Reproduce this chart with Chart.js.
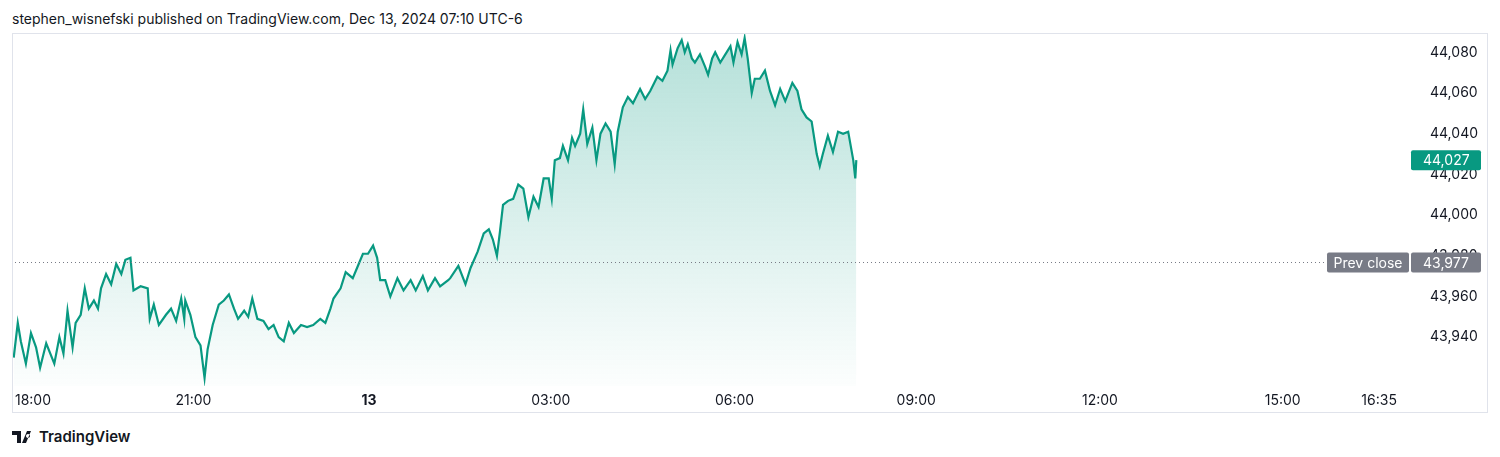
<!DOCTYPE html>
<html><head><meta charset="utf-8">
<script src="https://cdn.jsdelivr.net/npm/chart.js@4"></script>
<style>
body{margin:0;background:#fff;font-family:Inter,Roboto,sans-serif;color:#131722;width:1500px;height:457px;overflow:hidden;position:relative}
#hdr{position:absolute;left:12px;top:10px;font-size:14px}
#box{position:absolute;left:12px;top:33px;width:1476px;height:380px;border:1px solid #e0e3eb;box-sizing:border-box}
#ftr{position:absolute;left:12px;top:427px;font-size:15px;font-weight:600;display:flex;align-items:center;gap:5px}
</style></head><body>
<div id="hdr">stephen_wisnefski published on TradingView.com, Dec 13, 2024 07:10 UTC-6</div>
<div id="box"><canvas id="c" width="1474" height="378"></canvas></div>
<div id="ftr"><svg width="22" height="12" viewBox="0 0 22 12"><path d="M0 0h9v12H5V4H0z M10 12l5-12h4l-5 12z M16 3a2 2 0 1 0 0.01 0z" fill="#131722"/></svg>TradingView</div>
<script>
// minutes from 18:00 (Dec 12)
const times=[-19,-15,-12,-7,-2,3,7,13,21,26,30,34,39,42,47,51,55,60,64,67,72,77,82,87,91,96,99,106,113,115,119,124,131,136,141,146,149,150,155,160,165,169,172,177,183,188,193,198,202,208,212,216,221,227,232,237,242,247,252,257,264,270,276,283,288,293,296,303,308,315,320,325,330,335,339,342,347,352,359,365,372,377,384,389,396,401,409,
411,419,426,431,438,444,449,453,457,460,463,468,473,478,483,488,493,498,503,508,511,514,519,522,527,531,534,539,542,546,551,555,559,564,569,573,576,581,586,591,598,603,608,615,620,625,628,630,635,639,642,645,649,652,657,662,665,669,672,677,682,687,690,694,698,701,704,708,711,716,721,726,731,736,741,748,753,757,762,767,772,775,778,783,788,793,798,803,808,810,811];
const prices=[43930,43947,43938,43927,43942,43935,43925,43937,43927,43940,43932,43953,43935,43947,43951,43964,43954,43958,43954,43964,43971,43966,43976,43971,43978,43979,43963,43965,43964,43949,43956,43946,43951,43954,43948,43959,43949,43958,43951,43940,43936,43920,43934,43946,43956,43958,43961,43954,43949,43953,43950,43959,43949,43948,43944,43946,43940,43938,43947,43942,43946,43945,43946,43949,43947,43954,43959,43964,43972,43969,43975,43981,43981,43985,43979,43968,43968,43960,43969,43963,43968,43963,43970,43963,43969,43965,43968,
43969,43975,43966,43974,43982,43991,43993,43988,43980,43992,44005,44007,44008,44015,44013,43999,44009,44004,44018,44018,44008,44027,44028,44034,44027,44038,44034,44040,44052,44035,44043,44027,44040,44045,44041,44025,44041,44053,44058,44055,44062,44057,44061,44068,44066,44071,44081,44074,44082,44086,44080,44084,44077,44075,44079,44073,44069,44077,44080,44075,44079,44083,44075,44085,44079,44087,44077,44060,44067,44067,44071,44061,44054,44062,44056,44065,44061,44052,44048,44046,44030,44024,44030,44039,44031,44041,44040,44041,44027,44018,44027];
const tickPos=[0,158,331,510,691,870,1051,1231,1326];
const tickLabels=["18:00","21:00","13","03:00","06:00","09:00","12:00","15:00","16:35"];
const yTicks=[43940,43960,43980,44000,44020,44040,44060,44080];
const lastPrice=44027, prevClose=43977;
const n=Math.min(times.length,prices.length);
const pts=[];for(let i=0;i<n;i++)pts.push({x:times[i],y:prices[i]});
const font='Inter,Roboto,sans-serif';
const overlay={id:'ov',afterDatasetsDraw(ch){
 const c=ch.ctx,y=ch.scales.y,a=ch.chartArea;
 const py=Math.round(y.getPixelForValue(prevClose))+0.5;
 c.save();c.fillStyle='#787b86';
 for(let x=a.left+2;x<1313;x+=4)c.fillRect(x,py-0.5,1,1);
 c.font='14px '+font;c.textBaseline='middle';
 c.fillStyle='#787b86';
 c.beginPath();c.roundRect(1314,py-10,82,20,2);c.fill();
 c.beginPath();c.roundRect(1398,py-10,70,20,2);c.fill();
 c.fillStyle='#fff';c.textAlign='center';c.fillText('Prev close',1355,py+1);
 c.textAlign='left';c.fillText('43,977',1410,py+1);
 const ly=y.getPixelForValue(lastPrice);
 c.fillStyle='#089981';c.beginPath();c.roundRect(1398,ly-10,70,20,2);c.fill();
 c.fillStyle='#fff';c.fillText('44,027',1410,ly+1);
 c.restore();
}};
new Chart(document.getElementById('c'),{type:'line',
 data:{datasets:[{data:pts,borderColor:'#089981',borderWidth:2.2,pointRadius:0,tension:0,fill:'start',
  backgroundColor(ctx){const a=ctx.chart.chartArea;if(!a)return 'rgba(8,153,129,0.2)';
   const g=ctx.chart.ctx.createLinearGradient(0,a.top,0,a.bottom);g.addColorStop(0,'rgba(8,153,129,0.3)');g.addColorStop(1,'rgba(8,153,129,0.01)');return g;}}]},
 options:{responsive:false,animation:false,layout:{padding:0},
  plugins:{legend:{display:false},tooltip:{enabled:false}},
  scales:{
   x:{type:'linear',min:-19.7,max:1357.4,grid:{display:false},border:{display:false},
    afterBuildTicks(s){s.ticks=tickPos.map(v=>({value:v}));},
    afterFit(s){s.height=26;},
    ticks:{autoSkip:false,maxRotation:0,padding:-2,color:'#131722',
     font(ctx){return {family:font,size:14,weight:ctx.index===2?'bold':'normal'};},
     callback(v,i){return tickLabels[i];}}},
   y:{position:'right',min:43916,max:44089,grid:{display:false},border:{display:false},
    afterBuildTicks(s){s.ticks=yTicks.map(v=>({value:v}));},
    afterFit(s){s.width=76;s.paddingTop=0;s.paddingBottom=0;},
    ticks:{padding:11,color:'#131722',font:{family:font,size:14},
     callback(v){return v.toLocaleString('en-US');}}}
  }},
 plugins:[overlay]});
</script></body></html>
